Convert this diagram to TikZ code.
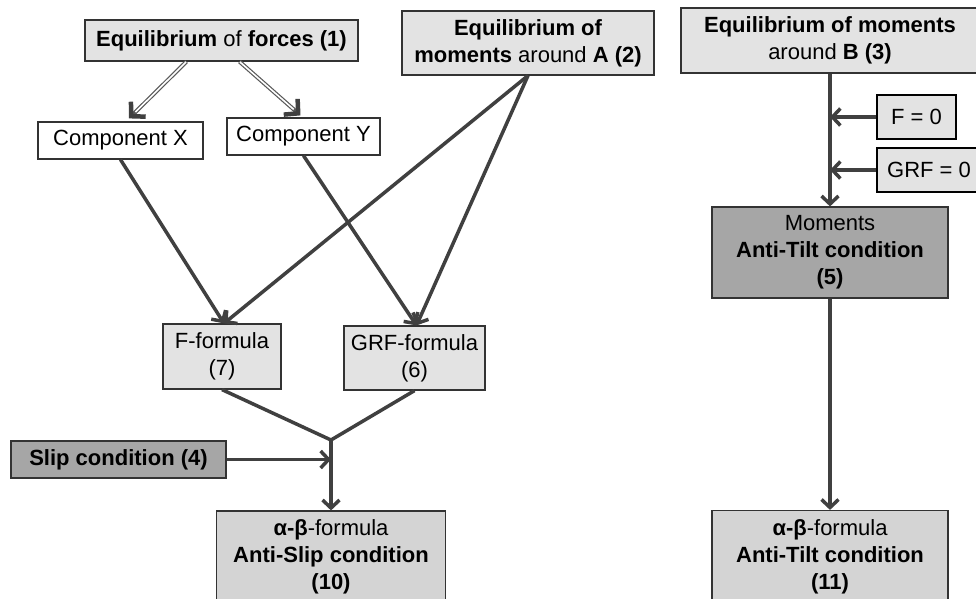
\documentclass[tikz,border=0pt]{standalone}
\usepackage{fontspec}
\setmainfont{Liberation Sans}
\usepackage{tikz}
\usetikzlibrary{arrows.meta, positioning}
\definecolor{lightbox}{HTML}{E3E3E3}
\definecolor{midbox}{HTML}{D4D4D4}
\definecolor{darkbox}{HTML}{A6A6A6}
\definecolor{wire}{HTML}{404040}
\tikzstyle{box}=[draw=black!80, line width=1.2pt, align=center, inner sep=0pt, font=\fontsize{22}{27}\selectfont]
\tikzstyle{lbox}=[box, fill=lightbox]
\tikzstyle{mbox}=[box, fill=midbox]
\tikzstyle{dbox}=[box, fill=darkbox]
\tikzstyle{wbox}=[box, fill=white]
\tikzstyle{zbox}=[box, fill=lightbox, draw=black, line width=2.4pt]
\tikzstyle{arr}=[-{Straight Barb[length=8pt,width=17pt]},line width=3.5pt,color=wire]
\tikzstyle{dbl}=[-{Straight Barb[length=10pt,width=21pt,line width=4.5pt,color=wire]},line width=4pt,draw=black!65,
  postaction={draw=white,line width=1.6pt,-,shorten >=9pt,shorten <=0.5pt}]

\begin{document}
\begin{tikzpicture}[x=1pt,y=-1pt]
  \useasboundingbox (0,0) rectangle (976,598);
  \node[lbox,minimum width=273pt,minimum height=41pt] (forces) at (221.5,40.5) {\textbf{Equilibrium} of \textbf{forces (1)}};
  \node[lbox,minimum width=252pt,minimum height=64pt] (momA) at (528,43) {\textbf{Equilibrium of}\\\textbf{moments} around \textbf{A (2)}};
  \node[lbox,minimum width=298pt,minimum height=65pt] (momB) at (830,40.5) {\textbf{Equilibrium of moments}\\around \textbf{B (3)}};
  \node[wbox,minimum width=165pt,minimum height=37pt] (compX) at (120.5,140.5) {Component X};
  \node[wbox,minimum width=153pt,minimum height=37pt] (compY) at (303.5,136.5) {Component Y};
  \node[zbox,minimum width=79pt,minimum height=44pt] (fzero) at (916.5,117) {F = 0};
  \node[zbox,minimum width=104pt,minimum height=44pt] (grfzero) at (929,170) {GRF = 0};
  \node[dbox,minimum width=236pt,minimum height=91pt] (tilt) at (830,252.5) {Moments\\\textbf{Anti-Tilt condition}\\\textbf{(5)}};
  \node[lbox,minimum width=118pt,minimum height=65pt] (fform) at (222,356.5) {F-formula\\(7)};
  \node[lbox,minimum width=141pt,minimum height=64pt] (grfform) at (414.5,358) {GRF-formula\\(6)};
  \node[dbox,minimum width=215pt,minimum height=37pt] (slip) at (118.5,459.5) {\textbf{Slip condition (4)}};
  \node[mbox,minimum width=229pt,minimum height=92pt] (antislip) at (331,557) {\textbf{α-β}-formula\\\textbf{Anti-Slip condition}\\\textbf{(10)}};
  \node[mbox,minimum width=236pt,minimum height=93pt] (antitilt) at (830,557) {\textbf{α-β}-formula\\\textbf{Anti-Tilt condition}\\\textbf{(11)}};
  \coordinate (join) at (331,440);

  \draw[dbl] ([xshift=-35pt]forces.south) -- ([xshift=8.5pt,yshift=3pt]compX.north);
  \draw[dbl] ([xshift=18pt]forces.south) -- ([xshift=-3pt,yshift=2pt]compY.north);
  \draw[arr] (compX.south) -- ([xshift=2pt]fform.north);
  \draw[arr] (momA.south) -- ([xshift=2pt]fform.north);
  \draw[arr] (compY.south) -- ([xshift=2pt]grfform.north);
  \draw[arr] (momA.south) -- ([xshift=2pt]grfform.north);
  \draw[arr,-] (fform.south) -- (join) -- (grfform.south);
  \draw[arr] (join) -- (antislip.north);
  \draw[arr] (slip.east) -- (join |- slip.east);
  \draw[arr] (momB.south) -- (tilt.north);
  \draw[arr] (fzero.west) -- (momB.south |- fzero.west);
  \draw[arr] (grfzero.west) -- (momB.south |- grfzero.west);
  \draw[arr] (tilt.south) -- (antitilt.north);
\end{tikzpicture}
\end{document}
